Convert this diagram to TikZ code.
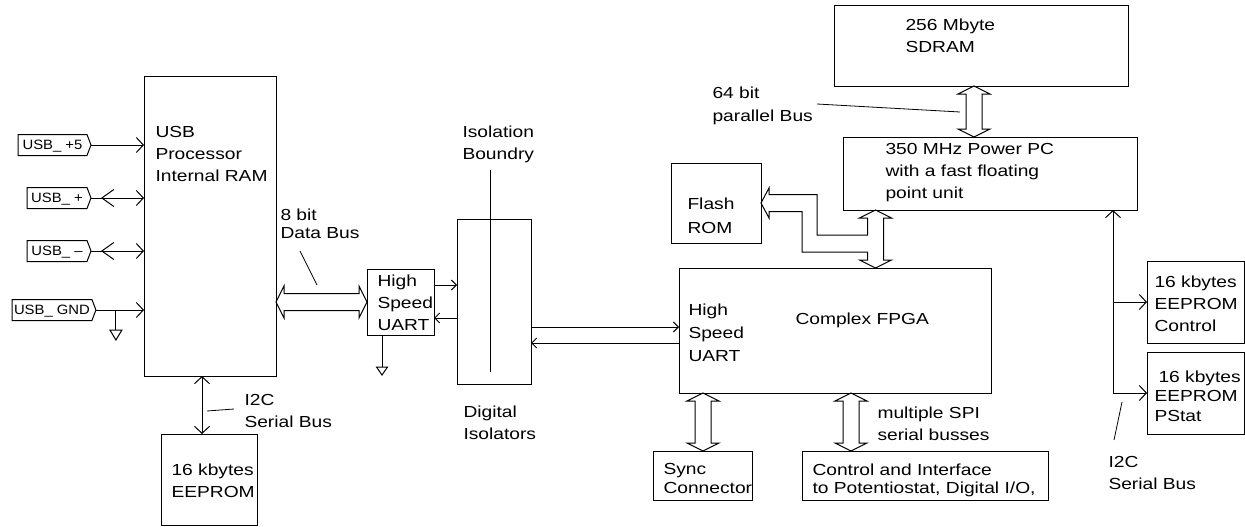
\documentclass[tikz,border=0pt]{standalone}
\usepackage{fontspec}
\setmainfont{Liberation Sans}[FakeStretch=1.2]
\newfontfamily\portfont{Liberation Sans}[FakeStretch=1.1]
\usetikzlibrary{arrows.meta,calc}
\newcommand\fs{\fontsize{16}{22}\selectfont}
\newcommand\vbus[2]{\draw[bus] ($#1$) -- ++(16,8) -- ++(-8,0) -- ($#2+(8,-8)$) -- ++(8,0) -- ($#2$) -- ++(-16,-8) -- ++(8,0) -- ($#1+(-8,8)$) -- ++(-8,0) -- cycle;}
\newcommand\hbus[2]{\draw[bus] ($#1$) -- ++(8,-16) -- ++(0,7.5) -- ($#2+(-8,-8.5)$) -- ++(0,-7.5) -- ($#2$) -- ++(-8,16) -- ++(0,-7.5) -- ($#1+(8,8.5)$) -- ++(0,7.5) -- cycle;}
\newcommand\portflag[1]{\draw (#1.north west) -- (#1.north east) -- ($(#1.east)+(4,0)$) coordinate (#1tip) -- (#1.south east) -- (#1.south west) -- cycle;}
\begin{document}
\begin{tikzpicture}[x=1pt,y=-1pt, line width=1pt,
  >={Straight Barb[length=7pt,width=15pt]},
  sm/.style={>={Straight Barb[length=5pt,width=10pt]}},
  big/.style={>={Straight Barb[length=12pt,width=17pt]}},
  box/.style={draw, rectangle, anchor=north west, inner sep=0pt, outer sep=0pt},
  txt/.style={anchor=north west, inner sep=0pt, align=left, font=\fs},
  bus/.style={draw, line join=miter},
  port/.style={rectangle, font=\portfont\fontsize{13.5}{14}\selectfont, inner xsep=2pt, inner ysep=0pt,
    minimum height=21pt, anchor=west, outer sep=0pt, text depth=0pt},
  lead/.style={line width=0.8pt}]
\useasboundingbox (0,0) rectangle (1245,527);

% boxes
\node[box, minimum width=132pt, minimum height=299pt] (usb) at (144,77) {};
\node[box, minimum width=67pt, minimum height=66pt] (uart) at (367,269) {};
\node[box, minimum width=74pt, minimum height=165pt] (iso) at (457,219) {};
\node[box, minimum width=312pt, minimum height=125pt] (fpga) at (679,268) {};
\node[box, minimum width=90pt, minimum height=80pt] (flash) at (671,163) {};
\node[box, minimum width=294pt, minimum height=73pt] (ppc) at (843,137) {};
\node[box, minimum width=294pt, minimum height=80pt] (sdram) at (834,6) {};
\node[box, minimum width=96pt, minimum height=91pt] (eepl) at (161,434) {};
\node[box, minimum width=99pt, minimum height=49pt] (sync) at (653,451) {};
\node[box, minimum width=246pt, minimum height=49pt] (ctrl) at (802,451) {};
\node[box, minimum width=97pt, minimum height=82pt] (eepc) at (1147,261) {};
\node[box, minimum width=97pt, minimum height=82pt] (eepp) at (1147,352) {};

% texts
\node[txt] (tusb) at (155,126) {USB\\Processor\\Internal RAM};
\node[txt, font=\fontsize{16}{18}\selectfont] (tdb) at (280,208) {8 bit\\Data Bus};
\node[txt] (tuart) at (377,274) {High\\Speed\\UART};
\node[txt] (tiso) at (462,125) {Isolation\\Boundry};
\node[txt] (tdig) at (463,405) {Digital\\Isolators};
\node[txt, font=\fontsize{16}{24}\selectfont] (tfl) at (687,197) {Flash\\ROM};
\node[txt] (tsd) at (905,18) {256 Mbyte\\SDRAM};
\node[txt, font=\fontsize{16}{23}\selectfont] (t64) at (712,86) {64 bit\\parallel Bus};
\node[txt] (tppc) at (885,143) {350 MHz Power PC\\with a fast floating\\point unit};
\node[txt, font=\fontsize{16}{23}\selectfont] (tfu) at (688,303) {High\\Speed\\UART};
\node[txt] (tfp) at (795,312) {Complex FPGA};
\node[txt, font=\fontsize{16}{18.5}\selectfont] (tsy) at (663,463) {Sync\\Connector};
\node[txt, font=\fontsize{16}{18.5}\selectfont] (tct) at (812,463) {Control and Interface\\to Potentiostat, Digital I/O,};
\node[txt] (tspi) at (877,406) {multiple SPI\\serial busses};
\node[txt] (tec) at (1154,275) {16 kbytes\\EEPROM\\Control};
\node[txt, font=\fontsize{16}{19.5}\selectfont] (tep) at (1154,370) {\hspace*{4pt}16 kbytes\\EEPROM\\PStat};
\node[txt] (ti2r) at (1108,456) {I2C\\Serial Bus};
\node[txt] (ti2l) at (244,394) {I2C\\Serial Bus};
\node[txt] (tepl) at (171,463) {16 kbytes\\EEPROM};

% USB ports
\node[port, minimum width=69pt] (p5) at (18,145) {USB\_ +5};
\node[port, minimum width=60pt] (pp) at (27,198) {USB\_ +};
\node[port, minimum width=60pt] (pm) at (27,251) {USB\_ –};
\node[port, minimum width=75pt] (pg) at (12,310) {USB\_ GND};
\portflag{p5}\portflag{pp}\portflag{pm}\portflag{pg}
\draw[->] (p5tip) -- (p5tip -| usb.west);
\draw[->] (pptip) -- (pptip -| usb.west);
\draw[big,<-] ($(pptip)+(10,0)$) -- ++(20,0);
\draw[->] (pmtip) -- (pmtip -| usb.west);
\draw[big,<-] ($(pmtip)+(10,0)$) -- ++(20,0);
\draw[->] (pgtip) -- (pgtip -| usb.west);
\draw ($(pgtip)+(20,0)$) -- ++(0,20);
\draw ($(pgtip)+(14,20)$) -- ++(12,0) -- ++(-6,10) -- cycle;

% 8 bit data bus
\coordinate (yb) at (0,302);
\hbus{(usb.east |- yb)}{(uart.west |- yb)}
\draw[lead] (300,251) -- (317,285);

% UART ground
\draw ($(uart.south west)+(15,0)$) -- ++(0,32);
\draw ($(uart.south west)+(9.5,32)$) -- ++(11,0) -- ++(-5.5,8) -- cycle;

% UART <-> isolators
\draw[sm,->] ($(uart.north east)+(0,16)$) coordinate (u1) -- (u1 -| iso.west);
\coordinate (u2) at ($(uart.north east)+(0,49)$);
\draw[sm,->] (u2 -| iso.west) -- (u2);
\draw (490,170) -- (490,372);

% isolators <-> FPGA
\coordinate (f1) at ($(fpga.north west)+(0,59)$);
\coordinate (f2) at ($(fpga.north west)+(0,75)$);
\draw[sm,->] (f1 -| iso.east) -- (f1);
\draw[sm,->] (f2) -- (f2 -| iso.east);

% SDRAM <-> PPC
\coordinate (xs) at (974,0);
\vbus{(sdram.south -| xs)}{(ppc.north -| xs)}
\draw[lead] (817,104) -- (960,112);

% PPC <-> FPGA with branch to Flash ROM
\coordinate (xf) at (875.5,0);
\coordinate (T) at (ppc.south -| xf);
\coordinate (B) at (fpga.north -| xf);
\coordinate (F) at (flash.east |- 0,203);
\draw[bus] (T) -- ++(16,8) -- ++(-8,0) -- ($(B)+(8,-8)$) -- ++(8,0) -- (B) -- ++(-16,-8) -- ++(8,0)
  -- (867.5,252) -- (802,252) -- (802,211.5) -- (769,211.5) -- (769,218) -- (F)
  -- (769,188) -- (769,194.5) -- (817,194.5) -- (817,235) -- (867.5,235)
  -- ($(T)+(-8,8)$) -- ++(-8,0) -- cycle;

% FPGA <-> Sync, Control
\coordinate (xsy) at (703,0);
\coordinate (xct) at (851,0);
\vbus{(fpga.south -| xsy)}{(sync.north -| xsy)}
\vbus{(fpga.south -| xct)}{(ctrl.north -| xct)}

% right I2C bus
\coordinate (xi) at (1113,0);
\draw[->] (xi |- eepp.west) -- (xi |- ppc.south);
\draw[->] (xi |- eepc.west) -- (eepc.west);
\draw[->] (xi |- eepp.west) -- (eepp.west);
\draw[lead] (1122,402) -- (1114,440);

% left I2C bus
\coordinate (xl) at (202,0);
\draw[<->] (xl |- usb.south) -- (xl |- eepl.north);
\draw[lead] (207,411) -- (234,409);
\end{tikzpicture}
\end{document}
